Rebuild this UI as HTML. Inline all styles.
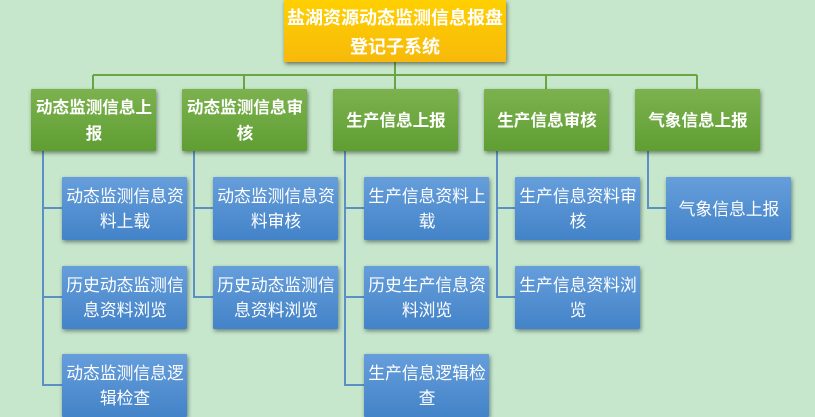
<!DOCTYPE html>
<html><head><meta charset="utf-8">
<style>
html,body{margin:0;padding:0}
body{width:815px;height:417px;overflow:hidden;background:#c7e7cc;position:relative;font-family:"Liberation Sans","Noto Sans CJK SC",sans-serif}
.b{position:absolute;display:flex;align-items:center;justify-content:center;text-align:center;color:#fff;box-sizing:border-box;border-radius:1px}
.b span{display:block;filter:blur(.3px)}
.g{width:125px;height:62px;top:89px;padding-top:2px;padding-left:1px;font-size:16.6px;font-weight:bold;line-height:26px;background:linear-gradient(#7cb24e,#5f9e33);box-shadow:1px 2px 4px rgba(40,60,40,.6)}
.u{width:125px;height:63px;padding-top:1px;padding-left:1px;font-size:16.8px;line-height:25px;background:linear-gradient(#669edb,#4383c8);box-shadow:1px 2px 4px rgba(40,60,70,.6)}
.r{left:284px;top:0;width:222px;height:62px;padding-top:4px;font-size:18px;font-weight:bold;line-height:29px;background:linear-gradient(#ffd000,#f7b90b);box-shadow:1px 2px 4px rgba(50,50,30,.65)}
svg{position:absolute;left:0;top:0}
</style></head><body>
<svg width="815" height="417" fill="none">
<g stroke="#6aa544" stroke-width="2"><path d="M395 62V89M93 75H697M93 75V89M244 75V89M395 75V89M546 75V89M697 75V89"/></g>
<g stroke="#5c8fc6" stroke-width="2">
<path d="M43 151V385H62M43 208H62M43 297H62"/>
<path d="M194 151V297H213M194 208H213"/>
<path d="M345 151V385H364M345 208H364M345 297H364"/>
<path d="M497 151V297H515M497 208H515"/>
<path d="M648 151V208H666"/>
</g></svg>
<div class="b r"><span>盐湖资源动态监测信息报盘<br>登记子系统</span></div>
<div class="b g" style="left:31px"><span>动态监测信息上<br>报</span></div>
<div class="b g" style="left:182px"><span>动态监测信息审<br>核</span></div>
<div class="b g" style="left:333px"><span>生产信息上报</span></div>
<div class="b g" style="left:484px"><span>生产信息审核</span></div>
<div class="b g" style="left:635px"><span>气象信息上报</span></div>
<div class="b u" style="left:62px;top:177px"><span>动态监测信息资<br>料上载</span></div>
<div class="b u" style="left:62px;top:266px"><span>历史动态监测信<br>息资料浏览</span></div>
<div class="b u" style="left:62px;top:354px"><span>动态监测信息逻<br>辑检查</span></div>
<div class="b u" style="left:213px;top:177px"><span>动态监测信息资<br>料审核</span></div>
<div class="b u" style="left:213px;top:266px"><span>历史动态监测信<br>息资料浏览</span></div>
<div class="b u" style="left:364px;top:177px"><span>生产信息资料上<br>载</span></div>
<div class="b u" style="left:364px;top:266px"><span>历史生产信息资<br>料浏览</span></div>
<div class="b u" style="left:364px;top:354px"><span>生产信息逻辑检<br>查</span></div>
<div class="b u" style="left:515px;top:177px"><span>生产信息资料审<br>核</span></div>
<div class="b u" style="left:515px;top:266px"><span>生产信息资料浏<br>览</span></div>
<div class="b u" style="left:666px;top:177px"><span>气象信息上报</span></div>
</body></html>
